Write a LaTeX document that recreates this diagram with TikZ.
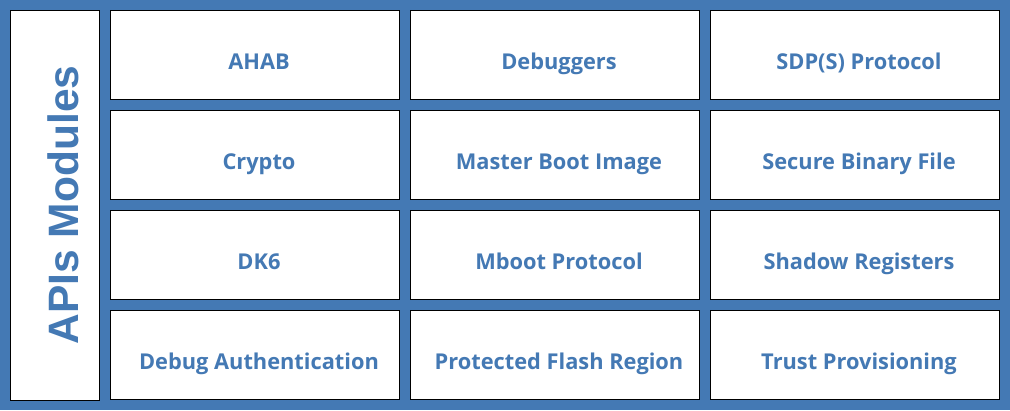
\documentclass[tikz,border=0pt]{standalone}
\usepackage{fontspec}
\setmainfont{Open Sans}
\newfontfamily\titlefont{Liberation Sans}
\definecolor{apiblue}{HTML}{4479B4}
\begin{document}
\begin{tikzpicture}[
        x=1pt, y=-1pt,
        cell/.style={rectangle, draw=black, line width=1pt, fill=white, minimum width=289pt, minimum height=89pt, inner sep=0pt},
        lbl/.style={font=\fontsize{21.8}{26}\selectfont\bfseries, text=apiblue, xshift=4pt, yshift=-9pt, text height=15pt, text depth=4pt},
        titlebox/.style={rectangle, draw=black, line width=1pt, fill=white, minimum width=89pt, minimum height=390pt, inner sep=0pt}
    ]
        \fill[apiblue] (0,0) rectangle (1010,410);

        \node[titlebox] (apis) at (55,205) {};
        \node[font=\titlefont\fontsize{42.5}{50}\selectfont\bfseries, text=apiblue, rotate=90] (apis_title) at ([xshift=8pt]apis.center) {APIs Modules};

        \node[cell, label={[lbl]center:AHAB}] (ahab) at (255,55) {};
        \node[cell, label={[lbl]center:Debuggers}] (debuggers) at (555,55) {};
        \node[cell, label={[lbl]center:SDP(S) Protocol}] (sdps) at (855,55) {};

        \node[cell, label={[lbl]center:Crypto}] (crypto) at (255,155) {};
        \node[cell, label={[lbl]center:Master Boot Image}] (mbi) at (555,155) {};
        \node[cell, label={[lbl]center:Secure Binary File}] (sbfile) at (855,155) {};

        \node[cell, label={[lbl]center:DK6}] (dk6) at (255,255) {};
        \node[cell, label={[lbl]center:Mboot Protocol}] (mboot) at (555,255) {};
        \node[cell, label={[lbl]center:Shadow Registers}] (shadowregs) at (855,255) {};

        \node[cell, label={[lbl]center:Debug Authentication}] (debugauth) at (255,355) {};
        \node[cell, label={[lbl]center:Protected Flash Region}] (pfr) at (555,355) {};
        \node[cell, label={[lbl]center:Trust Provisioning}] (tp) at (855,355) {};
    \end{tikzpicture}
\end{document}
